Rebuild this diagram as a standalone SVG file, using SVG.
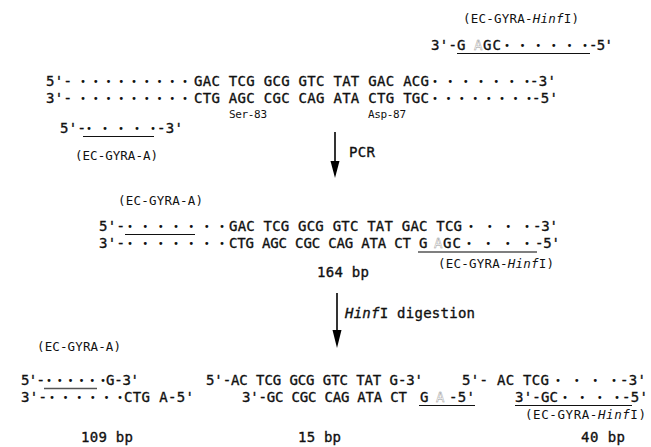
<svg xmlns="http://www.w3.org/2000/svg" width="651" height="447" viewBox="0 0 651 447">
<defs>
<style>
text{font-family:"DejaVu Sans Mono","Liberation Mono",monospace;fill:#111}
.s{font-size:14px;stroke:#111;stroke-width:0.35}
.l{font-size:12.5px}
.m{font-size:11px}
.d{font-size:10px;transform:translateY(-1.5px)}
.h{font-size:14px;fill:#fff;stroke:#999;stroke-width:0.45}
.u{stroke:#111;stroke-width:1.2}
.ug{stroke:#555;stroke-width:1.4}
.i{font-style:italic}
.ar{stroke:#000;stroke-width:1.6}
</style>
</defs>
<rect width="651" height="447" fill="#fff"/>

<g id="primer-hinf-top">
<text class="l" x="463" y="23" textLength="116">(EC-GYRA-<tspan class="i">Hinf</tspan>I)</text>
<text class="s" x="431" y="50" textLength="26">3'-</text>
<text class="s" x="457" y="50">G</text>
<text class="h" x="474" y="50">A</text>
<text class="s" x="483" y="50" textLength="18">GC</text>
<text class="d" x="504" y="50" textLength="84">••••••</text>
<text class="s" x="589" y="50" textLength="24">-5'</text>
<line class="u" x1="457" y1="53.5" x2="590" y2="53.5"/>
</g>

<g id="template">
<text class="s" x="46" y="86" textLength="26">5'-</text>
<text class="d" x="80" y="86" textLength="108">•••••••••</text>
<text class="s" x="194" y="86" textLength="235">GAC TCG GCG GTC TAT GAC ACG</text>
<text class="d" x="432" y="86" textLength="98">•••••••</text>
<text class="s" x="530" y="86" textLength="26">-3'</text>
<text class="s" x="46" y="103" textLength="26">3'-</text>
<text class="d" x="80" y="103" textLength="108">•••••••••</text>
<text class="s" x="194" y="103" textLength="235">CTG AGC CGC CAG ATA CTG TGC</text>
<text class="d" x="432" y="103" textLength="100">••••••••</text>
<text class="s" x="532" y="103" textLength="26">-5'</text>
<text class="m" x="229" y="118" textLength="38">Ser-83</text>
<text class="m" x="368" y="118" textLength="38">Asp-87</text>
</g>

<g id="primer-a-top">
<text class="s" x="60" y="133" textLength="26">5'-</text>
<text class="d" x="86" y="133" textLength="70">•••••</text>
<text class="s" x="157" y="133" textLength="26">-3'</text>
<line class="u" x1="83" y1="136.5" x2="154" y2="136.5"/>
<text class="l" x="75" y="160" textLength="83">(EC-GYRA-A)</text>
</g>

<g id="connectors">
<line class="ar" x1="335" y1="132" x2="335" y2="163"/>
<polygon points="330.5,161 339.5,161 335,178" fill="#000"/>
<line class="ar" x1="337" y1="293" x2="337" y2="332"/>
<polygon points="332.5,330 341.5,330 337,348" fill="#000"/>
</g>

<g id="label-pcr">
<text class="s" x="349" y="157" textLength="26">PCR</text>
</g>

<g id="product-164">
<text class="l" x="118" y="205" textLength="85">(EC-GYRA-A)</text>
<text class="s" x="99" y="231" textLength="26">5'-</text>
<text class="d" x="127" y="231" textLength="98">•••••••</text>
<line class="u" x1="125" y1="234.5" x2="195" y2="234.5"/>
<text class="s" x="229" y="231" textLength="233">GAC TCG GCG GTC TAT GAC TCG</text>
<text class="d" x="468" y="231" textLength="62">••••</text>
<text class="s" x="533" y="231" textLength="25">-3'</text>
<text class="s" x="99" y="248" textLength="26">3'-</text>
<text class="d" x="127" y="248" textLength="98">•••••••</text>
<text class="s" x="229" y="248" textLength="182">CTG AGC CGC CAG ATA CT</text>
<text class="s" x="419" y="248">G</text>
<text class="h" x="434" y="248">A</text>
<text class="s" x="443" y="248" textLength="18">GC</text>
<text class="d" x="466" y="248" textLength="64">••••</text>
<text class="s" x="535" y="248" textLength="25">-5'</text>
<line class="ug" x1="418" y1="252" x2="537" y2="252"/>
<text class="l" x="438" y="268" textLength="116">(EC-GYRA-<tspan class="i">Hinf</tspan>I)</text>
<text class="s" x="317" y="277" textLength="52">164 bp</text>
</g>

<g id="label-digestion">
<text class="s" x="345" y="318" textLength="130"><tspan class="i">Hinf</tspan>I digestion</text>
</g>

<g id="fragment-109">
<text class="l" x="37" y="351" textLength="84">(EC-GYRA-A)</text>
<text class="s" x="21" y="385" textLength="24">5'-</text>
<text class="d" x="46" y="385" textLength="60">••••••</text>
<line class="ug" x1="44" y1="388.5" x2="97" y2="388.5"/>
<text class="s" x="106" y="385" textLength="33">G-3'</text>
<text class="s" x="21" y="402" textLength="26">3'-</text>
<text class="d" x="49" y="402" textLength="74">••••••</text>
<text class="s" x="124" y="402" textLength="70">CTG A-5'</text>
<text class="s" x="81" y="442" textLength="52">109 bp</text>
</g>

<g id="fragment-15">
<text class="s" x="206" y="385" textLength="217">5'-AC TCG GCG GTC TAT G-3'</text>
<text class="s" x="242" y="402" textLength="165">3'-GC CGC CAG ATA CT</text>
<text class="s" x="420" y="402">G</text>
<text class="h" x="436" y="402">A</text>
<text class="s" x="449" y="402" textLength="26">-5'</text>
<line class="u" x1="419" y1="405.5" x2="475" y2="405.5"/>
<text class="s" x="298" y="442" textLength="43">15 bp</text>
</g>

<g id="fragment-40">
<text class="s" x="462" y="385" textLength="87">5'- AC TCG</text>
<text class="d" x="555" y="385" textLength="62">••••</text>
<text class="s" x="620" y="385" textLength="26">-3'</text>
<text class="s" x="515" y="402" textLength="43">3'-GC</text>
<text class="d" x="562" y="402" textLength="58">••••</text>
<text class="s" x="622" y="402" textLength="26">-5'</text>
<line class="u" x1="515" y1="405.5" x2="632" y2="405.5"/>
<text class="l" x="525" y="419" textLength="121">(EC-GYRA-<tspan class="i">Hinf</tspan>I)</text>
<text class="s" x="581" y="442" textLength="44">40 bp</text>
</g>
</svg>
